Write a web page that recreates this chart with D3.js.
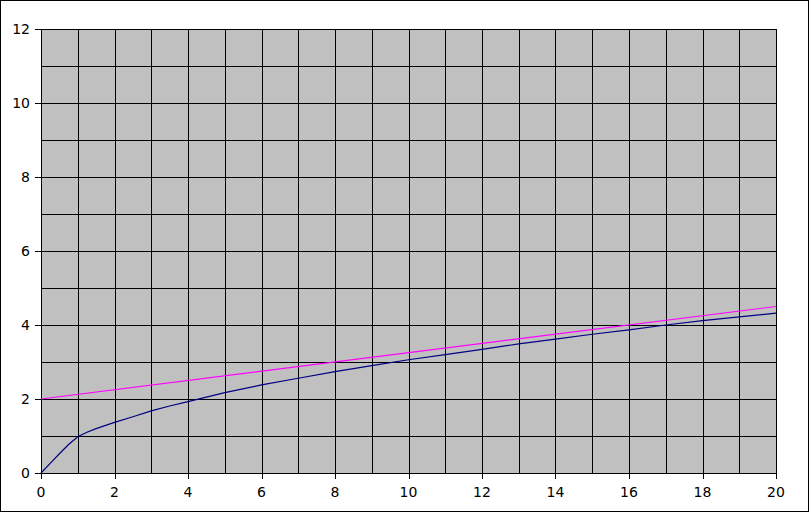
<!DOCTYPE html>
<html><head><meta charset="utf-8">
<script src="https://cdn.jsdelivr.net/npm/d3@7"></script>
<style>body{margin:0;background:#fff}svg{display:block}</style>
</head><body>
<script>
const blueX = [0,0.25,0.5,0.75,1,1.25,1.5,2,2.5,3,3.5,4,5,6,7,8,9,10,11,12,13,14,15,16,17,18,19,20];
const blueY = [0,0.26,0.52,0.77,0.98,1.1,1.2,1.37,1.52,1.68,1.81,1.93,2.17,2.38,2.56,2.74,2.9,3.06,3.2,3.34,3.49,3.62,3.75,3.87,4.0,4.12,4.22,4.32];
const pinkX = [0,20];
const pinkY = [2,4.5];
const xTicks = [0,2,4,6,8,10,12,14,16,18,20];
const yTicks = [0,2,4,6,8,10,12];
const xGrid = d3.range(0,21,1);
const yGrid = d3.range(0,13,1);

const W=809,H=512;
const svg=d3.select("body").append("svg").attr("width",W).attr("height",H);
svg.append("rect").attr("x",0.5).attr("y",0.5).attr("width",W-1).attr("height",H-1)
  .attr("fill","#fff").attr("stroke","#000");

const L=41,R=776,T=29,B=473;
const x=d3.scaleLinear().domain([0,20]).range([L,R]);
const y=d3.scaleLinear().domain([0,12]).range([B,T]);
const px=v=>Math.round(x(v))+0.5, py=v=>Math.round(y(v))+0.5;

svg.append("rect").attr("x",L).attr("y",T).attr("width",R-L).attr("height",B-T).attr("fill","#c0c0c0");

const g=svg.append("g").attr("shape-rendering","crispEdges").attr("stroke","#000").attr("stroke-width",1);
g.selectAll(".vx").data(xGrid).join("line").attr("x1",d=>px(d)).attr("x2",d=>px(d)).attr("y1",T).attr("y2",B+0.5);
g.selectAll(".hy").data(yGrid).join("line").attr("x1",L).attr("x2",R+1).attr("y1",d=>py(d)).attr("y2",d=>py(d));
g.selectAll(".tx").data(xTicks).join("line").attr("x1",d=>px(d)).attr("x2",d=>px(d)).attr("y1",B).attr("y2",B+6);
g.selectAll(".ty").data(yTicks).join("line").attr("x1",L-6).attr("x2",L).attr("y1",d=>py(d)).attr("y2",d=>py(d));

const line=d3.line().x(d=>x(d[0])).y(d=>y(d[1]));
svg.append("path").datum(pinkX.map((v,i)=>[v,pinkY[i]])).attr("d",line)
  .attr("fill","none").attr("stroke","#ff00ff").attr("stroke-width",1.2);
svg.append("path").datum(blueX.map((v,i)=>[v,blueY[i]])).attr("d",line)
  .attr("fill","none").attr("stroke","#000080").attr("stroke-width",1.2);

const font="DejaVu Sans";
svg.selectAll(".xl").data(xTicks).join("text").attr("x",d=>x(d)).attr("y",497)
  .attr("text-anchor","middle").attr("font-family",font).attr("font-size",14).attr("fill","#000").text(d=>d);
svg.selectAll(".yl").data(yTicks).join("text").attr("x",30).attr("y",d=>y(d)+5)
  .attr("text-anchor","end").attr("font-family",font).attr("font-size",14).attr("fill","#000").text(d=>d);
</script>
</body></html>
